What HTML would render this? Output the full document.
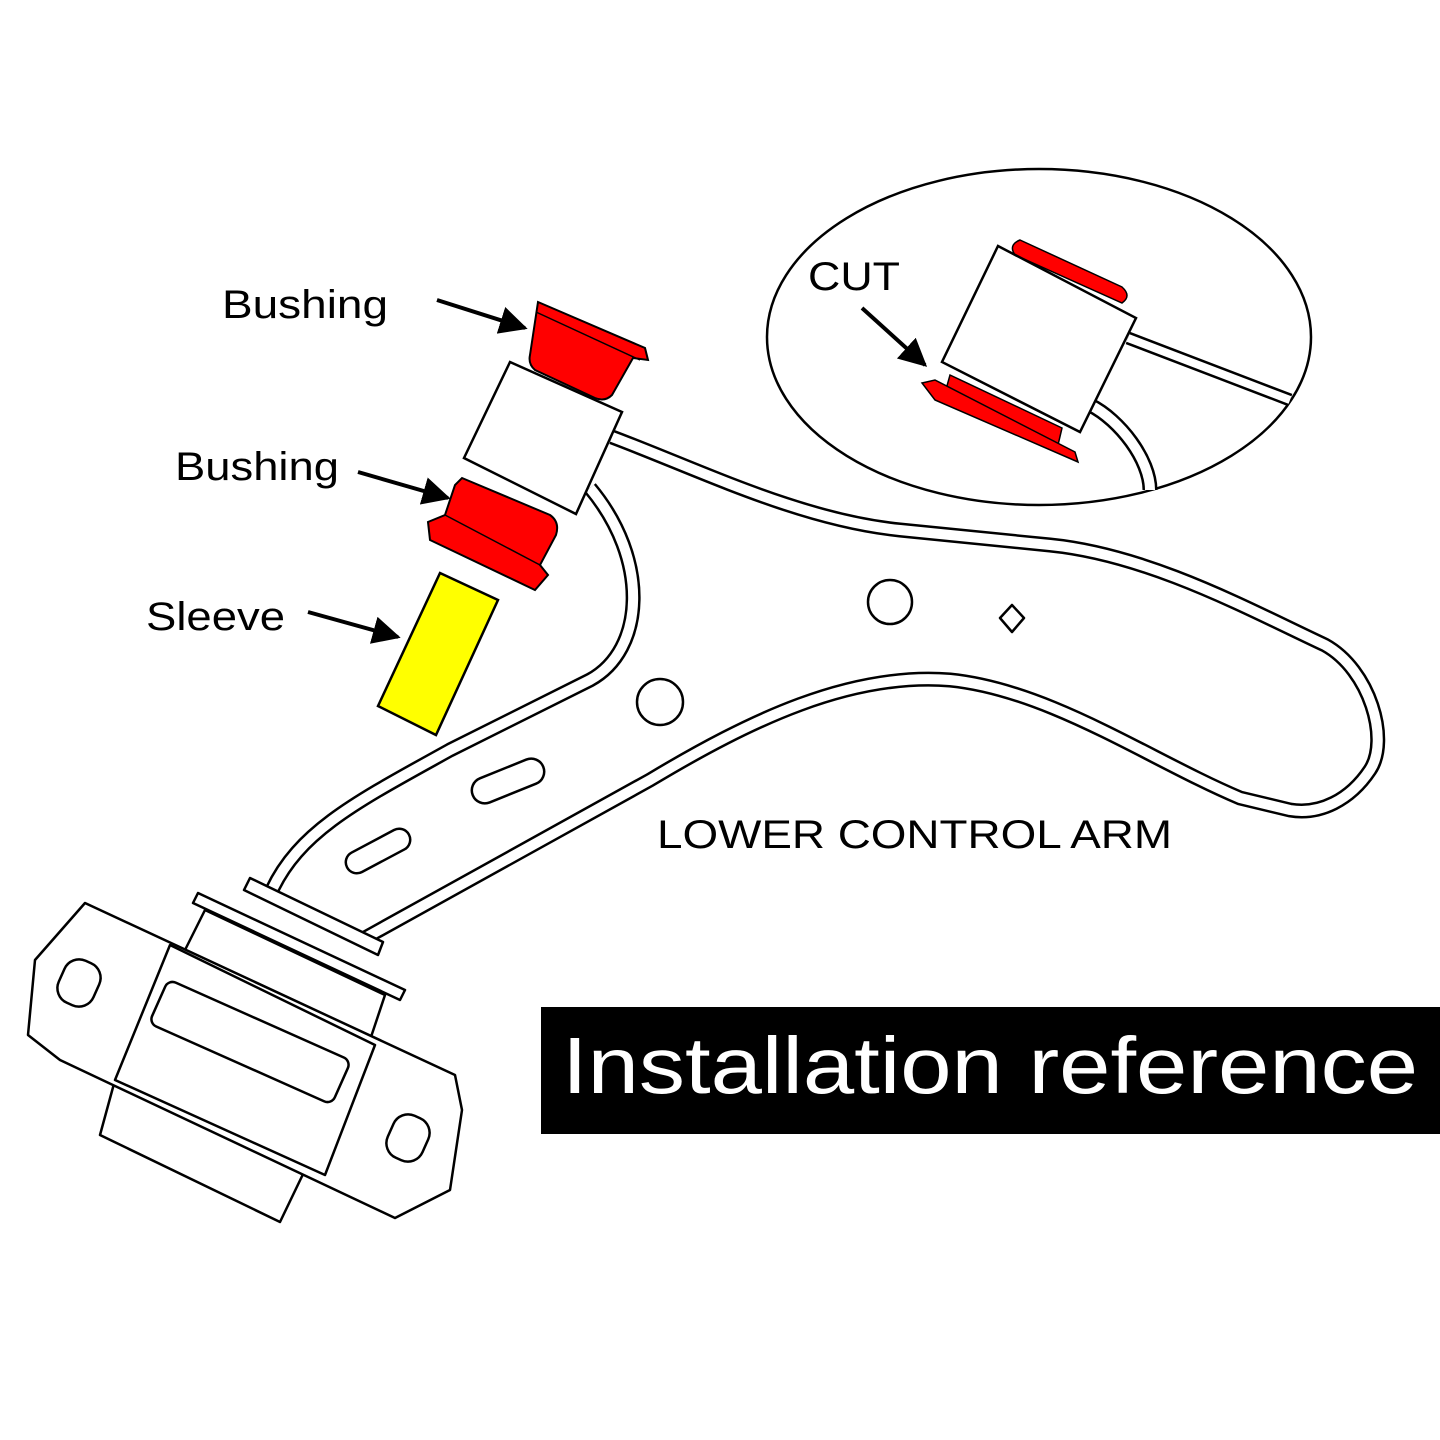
<!DOCTYPE html>
<html><head><meta charset="utf-8"><style>
html,body{margin:0;padding:0;background:#fff;}
svg{display:block;}
text{font-family:"Liberation Sans",Arial,sans-serif;}
</style></head><body>
<svg width="1440" height="1440" viewBox="0 0 1440 1440" xmlns="http://www.w3.org/2000/svg">
<defs>
<marker id="ah" viewBox="0 0 10 10" refX="9" refY="5" markerWidth="7" markerHeight="7" orient="auto">
<path d="M0,0 L10,5 L0,10 z" fill="#000"/></marker>
</defs>
<rect width="1440" height="1440" fill="#fff"/>

<ellipse cx="1039" cy="337" rx="272" ry="168" fill="#fff" stroke="#000" stroke-width="2.5"/>
<path d="M1128,338 L1290,400" stroke="#000" stroke-width="13" fill="none"/>
<path d="M1128,338 L1290,400" stroke="#fff" stroke-width="8" fill="none"/>
<path d="M1090,405 C1120,420 1150,460 1150,490" stroke="#000" stroke-width="15" fill="none"/>
<path d="M1090,405 C1120,420 1150,460 1150,490" stroke="#fff" stroke-width="10" fill="none"/>
<path d="M1020,240 L1122,287 Q1132,296 1122,303 L1015,255 Q1008,245 1020,240z" fill="#f00" stroke="#000" stroke-width="1.5"/>
<polygon points="998,246 1136,318 1080,432 942,362" fill="#fff" stroke="#000" stroke-width="2.5"/>
<path d="M950,375 L1062,428 L1058,445 L945,393z" fill="#f00" stroke="#000" stroke-width="1.5"/>
<path d="M922,383 L935,380 L1075,452 L1078,462 L935,400z" fill="#f00" stroke="#000" stroke-width="1.5"/>
<text x="808" y="290" font-size="40" textLength="92" lengthAdjust="spacingAndGlyphs">CUT</text>
<line x1="862" y1="308" x2="925" y2="365" stroke="#000" stroke-width="4" marker-end="url(#ah)"/>

<g fill="none" stroke-linejoin="round">
<path d="M612,437 C700,470 800,520 900,530 L1050,545 C1150,555 1250,610 1325,645 C1370,670 1390,740 1370,770 C1350,800 1320,815 1290,810 L1240,798 C1150,760 1050,690 950,680 C850,672 750,720 650,780 L365,938" stroke="#000" stroke-width="15"/>
<path d="M612,437 C700,470 800,520 900,530 L1050,545 C1150,555 1250,610 1325,645 C1370,670 1390,740 1370,770 C1350,800 1320,815 1290,810 L1240,798 C1150,760 1050,690 950,680 C850,672 750,720 650,780 L365,938" stroke="#fff" stroke-width="10"/>
<path d="M272,890 C300,830 360,800 450,750 L590,680 C645,650 650,560 590,488" stroke="#000" stroke-width="15"/>
<path d="M272,890 C300,830 360,800 450,750 L590,680 C645,650 650,560 590,488" stroke="#fff" stroke-width="10"/>
</g>
<circle cx="890" cy="602" r="22" fill="#fff" stroke="#000" stroke-width="2.5"/>
<circle cx="660" cy="702" r="23" fill="#fff" stroke="#000" stroke-width="2.5"/>
<path d="M1012,605 L1024,618 L1012,632 L1000,618z" fill="#fff" stroke="#000" stroke-width="2.5" stroke-linejoin="round"/>
<rect x="470" y="768" width="76" height="26" rx="13" transform="rotate(-22 508 781)" fill="#fff" stroke="#000" stroke-width="2.5"/>
<rect x="343" y="840" width="70" height="22" rx="11" transform="rotate(-28 378 851)" fill="#fff" stroke="#000" stroke-width="2.5"/>

<g fill="#fff" stroke="#000" stroke-width="2.5" stroke-linejoin="round">
<polygon points="198,893 405,990 400,1000 193,903"/>
<polygon points="250,878 383,942 378,955 244,890"/>
<polygon points="205,910 385,995 370,1040 185,950"/>
<polygon points="115,1080 305,1170 280,1222 100,1135"/>
<polygon points="85,903 455,1075 462,1110 450,1190 395,1218 60,1060 28,1035 35,960"/>
<polygon points="170,945 375,1045 325,1175 115,1080"/>
<rect x="150" y="1018" width="200" height="48" rx="8" transform="rotate(24 250 1042)"/>
<rect x="60" y="960" width="38" height="46" rx="16" transform="rotate(24 79 983)"/>
<rect x="389" y="1115" width="38" height="46" rx="16" transform="rotate(24 408 1138)"/>
</g>

<path d="M538,302 L645,348 L648,360 L633,358 L612,395 Q605,402 595,398 L535,370 Q528,364 530,355z" fill="#f00" stroke="#000" stroke-width="2"/>
<path d="M536,312 L640,360" stroke="#000" stroke-width="1.5"/>
<polygon points="510,362 622,412 576,514 464,458" fill="#fff" stroke="#000" stroke-width="2.5"/>
<path d="M462,478 L550,515 Q560,522 556,535 L540,565 L548,575 L535,590 L430,540 L428,522 L445,515 L455,485z" fill="#f00" stroke="#000" stroke-width="2"/>
<path d="M445,515 L540,565" stroke="#000" stroke-width="1.5"/>
<polygon points="440,573 498,600 436,735 378,706" fill="#ff0" stroke="#000" stroke-width="2.5"/>

<text x="222" y="318" font-size="40" textLength="166" lengthAdjust="spacingAndGlyphs">Bushing</text>
<text x="175" y="480" font-size="40" textLength="164" lengthAdjust="spacingAndGlyphs">Bushing</text>
<text x="146" y="630" font-size="40" textLength="139" lengthAdjust="spacingAndGlyphs">Sleeve</text>
<line x1="437" y1="300" x2="525" y2="328" stroke="#000" stroke-width="4" marker-end="url(#ah)"/>
<line x1="358" y1="472" x2="448" y2="498" stroke="#000" stroke-width="4" marker-end="url(#ah)"/>
<line x1="308" y1="612" x2="398" y2="637" stroke="#000" stroke-width="4" marker-end="url(#ah)"/>

<text x="657" y="848" font-size="40" textLength="515" lengthAdjust="spacingAndGlyphs">LOWER CONTROL ARM</text>

<rect x="541" y="1007" width="899" height="127" fill="#000"/>
<text x="562" y="1093" font-size="80" fill="#fff" textLength="856" lengthAdjust="spacingAndGlyphs">Installation reference</text>
</svg>
</body></html>
